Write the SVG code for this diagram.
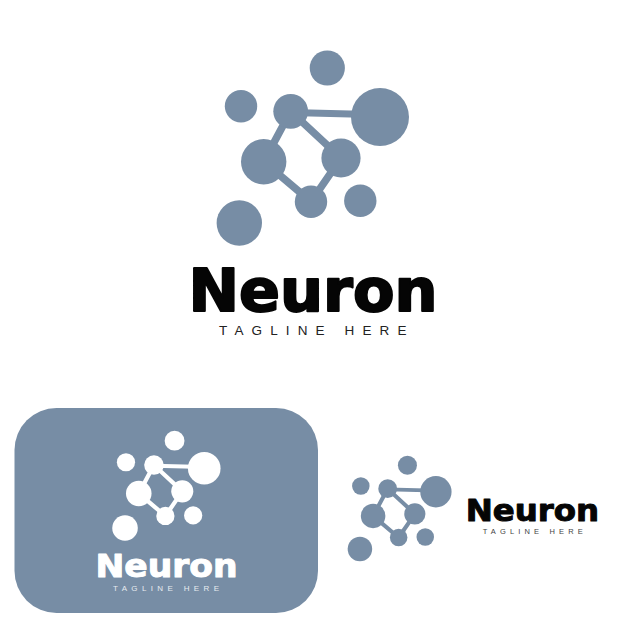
<svg xmlns="http://www.w3.org/2000/svg" width="626" height="626" viewBox="0 0 626 626">
<style>
.name{font-family:"DejaVu Sans","Liberation Sans",sans-serif;font-weight:700;stroke-linejoin:round}
.tag{font-family:"Liberation Sans",Arial,sans-serif}
.blue{fill:#778da5}
.blk{fill:#050505;stroke:#050505}
.wht{fill:#fff;stroke:#fff}
.lt{fill:#e6ebf0}
.links{fill:none;stroke-width:7.5}
</style>
<defs>
<g id="molecule">
<g class="links" stroke="currentColor">
<path d="M290.7 112.4 380 114.7" stroke-width="7"/>
<path d="M290.7 111.3 263.7 161.7 311 201.7 341 158Z"/>
</g>
<g fill="currentColor">
<circle id="n-top" cx="327.3" cy="68" r="17.6"/>
<circle id="n-big" cx="380" cy="117" r="29"/>
<circle id="n-left" cx="241" cy="106.3" r="16.2"/>
<circle id="n-hub" cx="290.7" cy="111.3" r="17.4"/>
<circle id="n-mleft" cx="263.7" cy="161.7" r="22.7"/>
<circle id="n-mright" cx="341" cy="158" r="19.6"/>
<circle id="n-bottom" cx="311" cy="201.7" r="16.2"/>
<circle id="n-sright" cx="360.3" cy="200.7" r="16.2"/>
<circle id="n-bleft" cx="239.3" cy="223" r="22.7"/>
</g>
</g>
</defs>
<rect width="626" height="626" fill="#fff"/>
<g id="logo-main">
<use href="#molecule" color="#778da5"/>
<text class="name blk" x="188.5" y="311" font-size="59" stroke-width="2" textLength="249" lengthAdjust="spacingAndGlyphs">Neuron</text>
<text class="tag" fill="#222" x="219" y="335" font-size="13.5" textLength="187.5">TAGLINE HERE</text>
</g>
<g id="logo-panel">
<rect class="blue" x="14.5" y="408" width="303.5" height="205" rx="42"/>
<use href="#molecule" color="#fff" transform="translate(-9.7 402.4) scale(.563)"/>
<text class="name wht" x="95.5" y="577" font-size="31.5" stroke-width="1" textLength="142" lengthAdjust="spacingAndGlyphs">Neuron</text>
<text class="tag lt" x="113" y="591.2" font-size="8" textLength="106">TAGLINE HERE</text>
</g>
<g id="logo-side">
<use href="#molecule" color="#778da5" transform="translate(230.7 428.6) scale(.54)"/>
<text class="name blk" x="465.7" y="520.6" font-size="31" stroke-width="1" textLength="133.5" lengthAdjust="spacingAndGlyphs">Neuron</text>
<text class="tag" fill="#444" x="482.7" y="533.8" font-size="7.5" textLength="100">TAGLINE HERE</text>
</g>
</svg>
